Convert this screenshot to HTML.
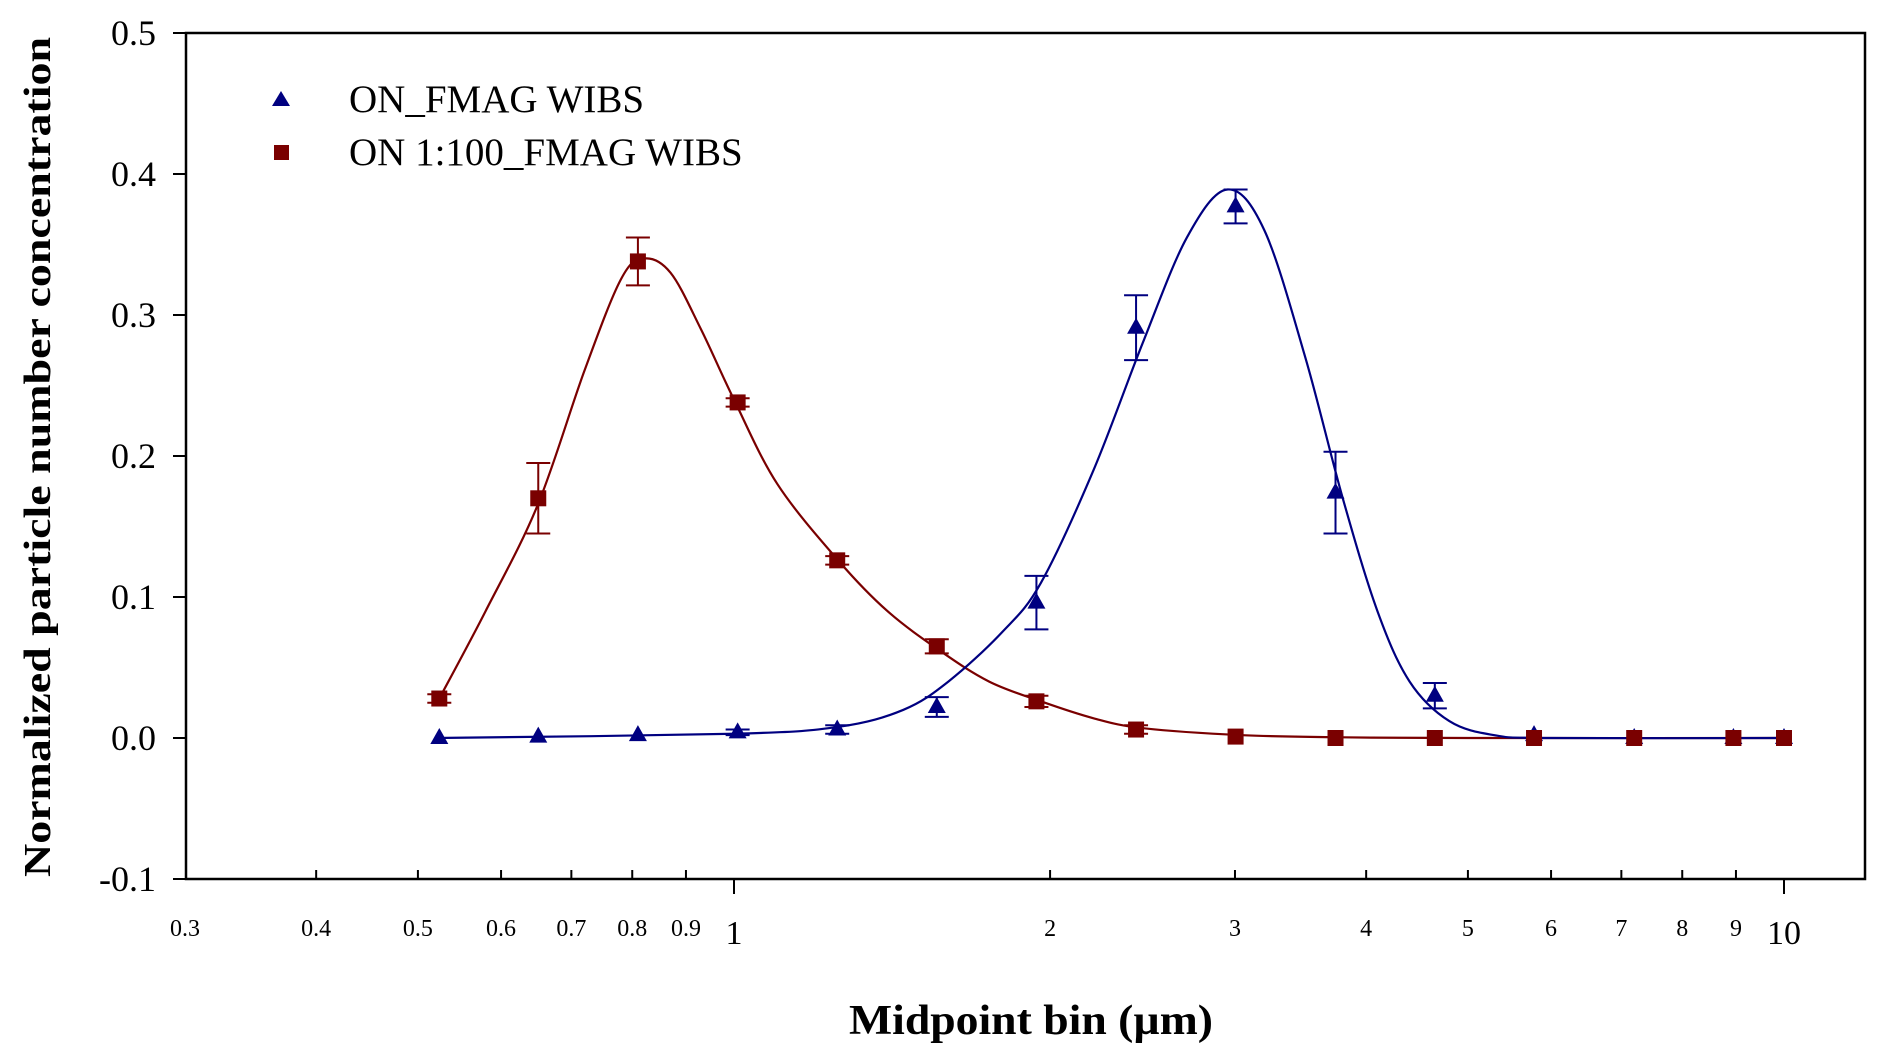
<!DOCTYPE html>
<html><head><meta charset="utf-8">
<style>
html,body{margin:0;padding:0;background:#fff;}
svg{display:block;}
text{font-family:"Liberation Serif",serif;fill:#000;}
</style></head>
<body>
<svg id="chart" width="1892" height="1064" viewBox="0 0 1892 1064" xmlns="http://www.w3.org/2000/svg">
  <text transform="translate(50,457) rotate(-90)" text-anchor="middle" font-size="38" font-weight="bold" textLength="840" lengthAdjust="spacingAndGlyphs">Normalized particle number concentration</text>
  <text x="1031" y="1034" text-anchor="middle" font-size="42" font-weight="bold" textLength="364" lengthAdjust="spacingAndGlyphs">Midpoint bin (µm)</text>
  <g id="legend">
    <polygon points="281,91 272,106 290,106" fill="#000080"/>
    <text x="349" y="112" font-size="39">ON_FMAG WIBS</text>
    <rect x="274" y="145" width="15" height="15" fill="#7a0000"/>
    <text x="349" y="165" font-size="39">ON 1:100_FMAG WIBS</text>
  </g>
</svg>
<script>
const xs = [0.524,0.651,0.810,1.008,1.254,1.560,1.941,2.415,3.004,3.74,4.65,5.78,7.20,8.95,10.0];
const blueVals = [0,0.001,0.002,0.004,0.006,0.022,0.096,0.291,0.377,0.174,0.030,0.002,0,0,0];
const blueErr  = [0.001,0.001,0.001,0.002,0.003,0.007,0.019,0.023,0.012,0.029,0.009,0.001,0,0,0];
const redVals  = [0.028,0.170,0.338,0.238,0.126,0.065,0.026,0.006,0.001,0,0,0,0,0,0];
const redErr   = [0.003,0.025,0.017,0.003,0.003,0.005,0.004,0.003,0.001,0,0,0,0,0,0];
const blueFitX = [0.52,1.0,1.26,1.45,1.6,1.8,1.96,2.2,2.45,2.7,2.95,3.2,3.5,3.8,4.1,4.4,4.8,5.3,6,10.0];
const blueFitY = [0,0.003,0.008,0.02,0.04,0.075,0.11,0.19,0.28,0.355,0.389,0.36,0.27,0.17,0.09,0.04,0.012,0.002,0,0];
const redFitX = [0.524,0.58,0.65,0.72,0.78,0.82,0.87,0.93,1.0,1.1,1.26,1.4,1.57,1.75,1.96,2.2,2.45,3.05,3.8,5,10.0];
const redFitY = [0.028,0.09,0.165,0.26,0.325,0.34,0.33,0.29,0.24,0.18,0.125,0.09,0.062,0.04,0.026,0.014,0.007,0.002,0.0005,0,0];
const yTicks = [0.5,0.4,0.3,0.2,0.1,0.0,-0.1];
const yTickLabels = ["0.5","0.4","0.3","0.2","0.1","0.0","-0.1"];
const xTicks = [0.3,0.4,0.5,0.6,0.7,0.8,0.9,1,2,3,4,5,6,7,8,9,10];
const xTickLabels = ["0.3","0.4","0.5","0.6","0.7","0.8","0.9","1","2","3","4","5","6","7","8","9","10"];

const NS="http://www.w3.org/2000/svg";
const svg=document.getElementById('chart');
const L=186,R=1865,T=33,B=879;
function X(v){return 734+1050*Math.log10(v);}
function Y(v){return 738-1410*v;}
function mk(tag,attrs,parent){const e=document.createElementNS(NS,tag);for(const k in attrs)e.setAttribute(k,attrs[k]);(parent||svg).appendChild(e);return e;}

const axes=mk('g',{});


const frame=mk('rect',{x:L,y:T,width:R-L,height:B-T,fill:'none',stroke:'#000','stroke-width':2.5},axes);



yTicks.forEach((t,i)=>{
  const y=Y(t);
  const tk=mk('line',{x1:173,x2:L,y1:y,y2:y,stroke:'#000','stroke-width':2},axes);
  
  
  const lb=mk('text',{x:156,y:y+12,'text-anchor':'end','font-size':36},axes);
  
  
  lb.textContent=yTickLabels[i];
});
xTicks.forEach((t,i)=>{
  const x=X(t);
  const major=(t===1||t===10);
  if(t!==0.3){
    const tk=mk('line',{x1:x,x2:x,y1:major?B:B-9,y2:major?B+15:B,stroke:'#000','stroke-width':2},axes);
    
    
  }
  const lb=mk('text',{x:x,y:major?944:936,'text-anchor':'middle','font-size':major?34:24},axes);
  
  
  lb.textContent=xTickLabels[i];
});

function curve(fx,fy,color,name){
  const p=fx.map((v,i)=>[X(v),Y(fy[i])]);
  let d='M'+p[0][0]+','+p[0][1];
  for(let i=0;i<p.length-1;i++){
    const p0=p[Math.max(0,i-1)],p1=p[i],p2=p[i+1],p3=p[Math.min(p.length-1,i+2)];
    const c1x=p1[0]+(p2[0]-p0[0])/6,c1y=p1[1]+(p2[1]-p0[1])/6;
    const c2x=p2[0]-(p3[0]-p1[0])/6,c2y=p2[1]-(p3[1]-p1[1])/6;
    d+=' C'+c1x+','+c1y+' '+c2x+','+c2y+' '+p2[0]+','+p2[1];
  }
  const e=mk('path',{d:d,fill:'none',stroke:color,'stroke-width':2.2});
  
  
}
function series(vals,errs,color,shape,name){
  const g=mk('g',{});
  
  
  vals.forEach((v,i)=>{
    const x=X(xs[i]),y=Y(v);
    if(errs[i]>0.0015){
      const y1=Y(v+errs[i]),y2=Y(v-errs[i]);
      const eb=mk('path',{d:`M${x},${y1}V${y2}M${x-12},${y1}H${x+12}M${x-12},${y2}H${x+12}`,stroke:color,'stroke-width':2,fill:'none'},g);
      
      
    }
    let m;
    if(shape==='tri') m=mk('polygon',{points:`${x},${y-10} ${x-9},${y+6} ${x+9},${y+6}`,fill:color},g);
    else m=mk('rect',{x:x-8,y:y-8,width:16,height:16,fill:color},g);
    
    
  });
}
curve(redFitX,redFitY,'#7a0000','fit-curve-on-1-100');
curve(blueFitX,blueFitY,'#000080','fit-curve-on-fmag');
series(blueVals,blueErr,'#000080','tri','series-on-fmag');
series(redVals,redErr,'#7a0000','sq','series-on-1-100');
</script>
</body></html>
